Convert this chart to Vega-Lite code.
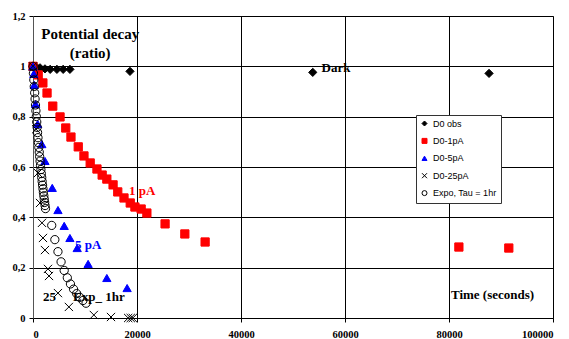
{
  "$schema": "https://vega.github.io/schema/vega-lite/v6.json",
  "width": 520,
  "height": 302,
  "autosize": "none",
  "padding": {"left": 33, "top": 16, "right": 16, "bottom": 21},
  "background": "white",
  "config": {
    "view": {"stroke": "#808080", "strokeWidth": 1},
    "axis": {
      "labelFont": "Liberation Serif",
      "labelFontWeight": "bold",
      "labelFontSize": 10.5,
      "labelColor": "black",
      "gridColor": "black",
      "gridOpacity": 1,
      "gridWidth": 1,
      "tickColor": "black",
      "tickSize": 4,
      "domainColor": "black"
    },
    "legend": {
      "labelFont": "Liberation Sans",
      "labelFontSize": 9,
      "labelColor": "black",
      "symbolSize": 25,
      "symbolStrokeWidth": 1,
      "padding": 4,
      "rowPadding": 7.4,
      "strokeColor": "#333333",
      "fillColor": "white",
      "labelOffset": 4,
      "cornerRadius": 0
    }
  },
  "encoding": {
    "x": {
      "field": "t",
      "type": "quantitative",
      "scale": {"domain": [0, 100000], "nice": false, "zero": false},
      "axis": {"values": [0, 20000, 40000, 60000, 80000, 100000], "format": "d", "labelPadding": 7, "title": null}
    },
    "y": {
      "field": "v",
      "type": "quantitative",
      "scale": {"domain": [0, 1.2], "nice": false, "zero": false},
      "axis": {"values": [0, 0.2, 0.4, 0.6, 0.8, 1, 1.2], "labelExpr": "replace(format(datum.value, '~g'), '.', ',')", "labelPadding": 4, "title": null, "domainColor": "#555555"}
    }
  },
  "layer": [
    {
      "data": {
        "values": [
          {"s": "D0 obs", "t": 0, "v": 1.0},
          {"s": "D0 obs", "t": 600, "v": 0.998},
          {"s": "D0 obs", "t": 1350, "v": 0.994},
          {"s": "D0 obs", "t": 2300, "v": 0.99},
          {"s": "D0 obs", "t": 3300, "v": 0.988},
          {"s": "D0 obs", "t": 4600, "v": 0.988},
          {"s": "D0 obs", "t": 5800, "v": 0.988},
          {"s": "D0 obs", "t": 7100, "v": 0.988},
          {"s": "D0 obs", "t": 18650, "v": 0.98},
          {"s": "D0 obs", "t": 53800, "v": 0.976},
          {"s": "D0 obs", "t": 87700, "v": 0.972},
          {"s": "D0-1pA", "t": 0, "v": 1.0},
          {"s": "D0-1pA", "t": 1000, "v": 0.966},
          {"s": "D0-1pA", "t": 1900, "v": 0.934},
          {"s": "D0-1pA", "t": 2700, "v": 0.894},
          {"s": "D0-1pA", "t": 3800, "v": 0.842},
          {"s": "D0-1pA", "t": 5200, "v": 0.799},
          {"s": "D0-1pA", "t": 6300, "v": 0.755},
          {"s": "D0-1pA", "t": 7300, "v": 0.719},
          {"s": "D0-1pA", "t": 8700, "v": 0.68},
          {"s": "D0-1pA", "t": 9800, "v": 0.644},
          {"s": "D0-1pA", "t": 11000, "v": 0.616},
          {"s": "D0-1pA", "t": 12300, "v": 0.592},
          {"s": "D0-1pA", "t": 13300, "v": 0.568},
          {"s": "D0-1pA", "t": 14200, "v": 0.552},
          {"s": "D0-1pA", "t": 15400, "v": 0.529},
          {"s": "D0-1pA", "t": 16300, "v": 0.501},
          {"s": "D0-1pA", "t": 17500, "v": 0.477},
          {"s": "D0-1pA", "t": 18700, "v": 0.457},
          {"s": "D0-1pA", "t": 19600, "v": 0.441},
          {"s": "D0-1pA", "t": 20800, "v": 0.433},
          {"s": "D0-1pA", "t": 21900, "v": 0.417},
          {"s": "D0-1pA", "t": 25400, "v": 0.374},
          {"s": "D0-1pA", "t": 29200, "v": 0.334},
          {"s": "D0-1pA", "t": 33100, "v": 0.302},
          {"s": "D0-1pA", "t": 81900, "v": 0.282},
          {"s": "D0-1pA", "t": 91500, "v": 0.278},
          {"s": "D0-5pA", "t": 0, "v": 1.0},
          {"s": "D0-5pA", "t": 150, "v": 0.97},
          {"s": "D0-5pA", "t": 250, "v": 0.926},
          {"s": "D0-5pA", "t": 500, "v": 0.85},
          {"s": "D0-5pA", "t": 900, "v": 0.771},
          {"s": "D0-5pA", "t": 1700, "v": 0.691},
          {"s": "D0-5pA", "t": 2300, "v": 0.624},
          {"s": "D0-5pA", "t": 3700, "v": 0.517},
          {"s": "D0-5pA", "t": 4800, "v": 0.429},
          {"s": "D0-5pA", "t": 6000, "v": 0.366},
          {"s": "D0-5pA", "t": 7100, "v": 0.318},
          {"s": "D0-5pA", "t": 8500, "v": 0.278},
          {"s": "D0-5pA", "t": 10600, "v": 0.215},
          {"s": "D0-5pA", "t": 14200, "v": 0.159},
          {"s": "D0-5pA", "t": 18100, "v": 0.119},
          {"s": "D0-25pA", "t": 0, "v": 1.0},
          {"s": "D0-25pA", "t": 600, "v": 0.75},
          {"s": "D0-25pA", "t": 960, "v": 0.576},
          {"s": "D0-25pA", "t": 1350, "v": 0.457},
          {"s": "D0-25pA", "t": 1730, "v": 0.378},
          {"s": "D0-25pA", "t": 1920, "v": 0.318},
          {"s": "D0-25pA", "t": 2300, "v": 0.27},
          {"s": "D0-25pA", "t": 2880, "v": 0.195},
          {"s": "D0-25pA", "t": 3080, "v": 0.167},
          {"s": "D0-25pA", "t": 4800, "v": 0.099},
          {"s": "D0-25pA", "t": 6900, "v": 0.044},
          {"s": "D0-25pA", "t": 11700, "v": 0.012},
          {"s": "D0-25pA", "t": 15000, "v": 0.004},
          {"s": "D0-25pA", "t": 18300, "v": 0.0},
          {"s": "D0-25pA", "t": 18800, "v": 0.0},
          {"s": "D0-25pA", "t": 19200, "v": 0.0},
          {"s": "Expo, Tau = 1hr", "t": 0, "v": 1.0},
          {"s": "Expo, Tau = 1hr", "t": 80, "v": 0.9726},
          {"s": "Expo, Tau = 1hr", "t": 160, "v": 0.946},
          {"s": "Expo, Tau = 1hr", "t": 240, "v": 0.92},
          {"s": "Expo, Tau = 1hr", "t": 320, "v": 0.8948},
          {"s": "Expo, Tau = 1hr", "t": 400, "v": 0.8703},
          {"s": "Expo, Tau = 1hr", "t": 480, "v": 0.8465},
          {"s": "Expo, Tau = 1hr", "t": 560, "v": 0.8233},
          {"s": "Expo, Tau = 1hr", "t": 640, "v": 0.8007},
          {"s": "Expo, Tau = 1hr", "t": 720, "v": 0.7788},
          {"s": "Expo, Tau = 1hr", "t": 800, "v": 0.7575},
          {"s": "Expo, Tau = 1hr", "t": 880, "v": 0.7367},
          {"s": "Expo, Tau = 1hr", "t": 960, "v": 0.7165},
          {"s": "Expo, Tau = 1hr", "t": 1040, "v": 0.6969},
          {"s": "Expo, Tau = 1hr", "t": 1120, "v": 0.6778},
          {"s": "Expo, Tau = 1hr", "t": 1200, "v": 0.6592},
          {"s": "Expo, Tau = 1hr", "t": 1280, "v": 0.6412},
          {"s": "Expo, Tau = 1hr", "t": 1360, "v": 0.6236},
          {"s": "Expo, Tau = 1hr", "t": 1440, "v": 0.6065},
          {"s": "Expo, Tau = 1hr", "t": 1520, "v": 0.5899},
          {"s": "Expo, Tau = 1hr", "t": 1600, "v": 0.5738},
          {"s": "Expo, Tau = 1hr", "t": 1680, "v": 0.558},
          {"s": "Expo, Tau = 1hr", "t": 1760, "v": 0.5427},
          {"s": "Expo, Tau = 1hr", "t": 1840, "v": 0.5279},
          {"s": "Expo, Tau = 1hr", "t": 1920, "v": 0.5134},
          {"s": "Expo, Tau = 1hr", "t": 2000, "v": 0.4994},
          {"s": "Expo, Tau = 1hr", "t": 2080, "v": 0.4857},
          {"s": "Expo, Tau = 1hr", "t": 2160, "v": 0.4724},
          {"s": "Expo, Tau = 1hr", "t": 2240, "v": 0.4594},
          {"s": "Expo, Tau = 1hr", "t": 2320, "v": 0.4469},
          {"s": "Expo, Tau = 1hr", "t": 2400, "v": 0.4346},
          {"s": "Expo, Tau = 1hr", "t": 3600, "v": 0.3679},
          {"s": "Expo, Tau = 1hr", "t": 4200, "v": 0.3114},
          {"s": "Expo, Tau = 1hr", "t": 4800, "v": 0.2636},
          {"s": "Expo, Tau = 1hr", "t": 5400, "v": 0.2231},
          {"s": "Expo, Tau = 1hr", "t": 6000, "v": 0.1889},
          {"s": "Expo, Tau = 1hr", "t": 6600, "v": 0.1599},
          {"s": "Expo, Tau = 1hr", "t": 7200, "v": 0.1353},
          {"s": "Expo, Tau = 1hr", "t": 7800, "v": 0.1146},
          {"s": "Expo, Tau = 1hr", "t": 8400, "v": 0.097},
          {"s": "Expo, Tau = 1hr", "t": 9000, "v": 0.0821},
          {"s": "Expo, Tau = 1hr", "t": 9600, "v": 0.0695},
          {"s": "Expo, Tau = 1hr", "t": 10200, "v": 0.0588}
        ]
      },
      "mark": {"type": "point", "opacity": 1, "strokeWidth": 1, "size": 68},
      "encoding": {
        "shape": {
          "field": "s", "type": "nominal",
          "scale": {"domain": ["D0 obs", "D0-1pA", "D0-5pA", "D0-25pA", "Expo, Tau = 1hr"], "range": ["diamond", "square", "triangle-up", "M-1,-1L1,1M-1,1L1,-1", "circle"]},
          "legend": {"title": null, "orient": "none", "legendX": 383, "legendY": 99}
        },
        "fill": {
          "field": "s", "type": "nominal",
          "scale": {"domain": ["D0 obs", "D0-1pA", "D0-5pA", "D0-25pA", "Expo, Tau = 1hr"], "range": ["black", "#ff0000", "#0000ff", "transparent", "transparent"]},
          "legend": {"title": null, "orient": "none", "legendX": 383, "legendY": 99}
        },
        "stroke": {
          "field": "s", "type": "nominal",
          "scale": {"domain": ["D0 obs", "D0-1pA", "D0-5pA", "D0-25pA", "Expo, Tau = 1hr"], "range": ["black", "#ff0000", "#0000ff", "black", "black"]},
          "legend": {"title": null, "orient": "none", "legendX": 383, "legendY": 99}
        }
      }
    },
    {
      "data": {
        "values": [
          {"label": "Dark", "t": 55500, "v": 0.9935, "g": "note"},
          {"label": "1 pA", "t": 18460, "v": 0.505, "g": "1pA"},
          {"label": "5 pA", "t": 8080, "v": 0.292, "g": "5pA"},
          {"label": "25", "t": 1920, "v": 0.083, "g": "note"},
          {"label": "Exp_ 1hr", "t": 7700, "v": 0.083, "g": "note"},
          {"label": "Time (seconds)", "t": 80380, "v": 0.091, "g": "note"}
        ]
      },
      "mark": {"type": "text", "font": "Liberation Serif", "fontWeight": "bold", "fontSize": 13, "align": "left", "baseline": "middle"},
      "encoding": {
        "text": {"field": "label"},
        "color": {"field": "g", "type": "nominal", "scale": {"domain": ["note", "1pA", "5pA"], "range": ["black", "#ff0000", "#0000ff"]}, "legend": null}
      }
    },
    {
      "data": {
        "values": [
          {"label": "Potential decay", "t": 11000, "v": 1.129},
          {"label": "(ratio)", "t": 11000, "v": 1.053}
        ]
      },
      "mark": {"type": "text", "font": "Liberation Serif", "fontWeight": "bold", "fontSize": 15, "align": "center", "baseline": "middle", "color": "black"},
      "encoding": {
        "text": {"field": "label"}
      }
    }
  ]
}
